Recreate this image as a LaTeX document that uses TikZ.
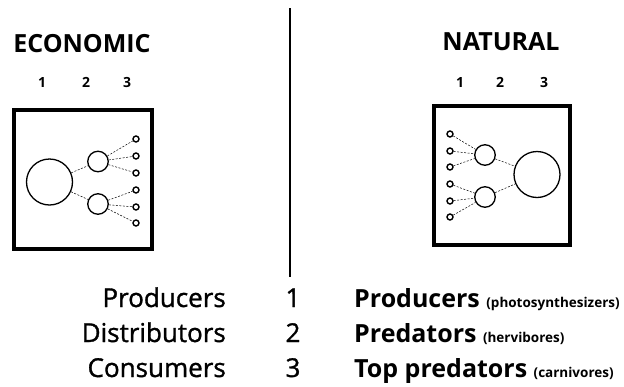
\documentclass[tikz,border=0pt]{standalone}
\usepackage{fontspec}
\setmainfont{Open Sans}
% a slightly heavier face for the legend words on the left
\newfontfamily\semiface[FakeBold=1.2]{Open Sans}
% smaller parenthetical remarks after the legend words
\newcommand{\smallnote}[1]{{\fontsize{13.5}{15}\selectfont\bfseries #1}}
\begin{document}
\begin{tikzpicture}[x=1pt,y=-1pt,
  frame/.style={draw, line width=4pt, inner sep=0pt},
  bigc/.style={circle, draw, line width=1.3pt, minimum size=46pt, inner sep=0pt},
  midc/.style={circle, draw, line width=1.3pt, minimum size=20.5pt, inner sep=0pt},
  tinyc/.style={circle, draw, line width=1.4pt, minimum size=6pt, inner sep=0pt},
  link/.style={line width=0.5pt, dash pattern=on 2pt off 1.5pt},
  divider/.style={line width=1.8pt},
  head/.style={font=\fontsize{25}{28}\selectfont\bfseries, inner sep=0pt, anchor=base},
  colnum/.style={font=\fontsize{14}{16}\selectfont\bfseries, inner sep=0pt, anchor=base},
  lefttxt/.style={font=\fontsize{26}{29}\selectfont\semiface, inner sep=0pt, anchor=base east},
  midnum/.style={font=\fontsize{26}{29}\selectfont\semiface, inner sep=0pt, anchor=base},
  righttxt/.style={font=\fontsize{25}{28}\selectfont\bfseries, inner sep=0pt, anchor=base west}
]
\useasboundingbox (0,0) rectangle (624,386);

% headings and level numbers
\node[head] (econ) at (82,52) {ECONOMIC};
\node[head] (nat) at (501,50) {NATURAL};
\node[colnum] (e1) at (42,87) {1};
\node[colnum] (e2) at (86,87) {2};
\node[colnum] (e3) at (127,87) {3};
\node[colnum] (n1) at (460,87) {1};
\node[colnum] (n2) at (500,87) {2};
\node[colnum] (n3) at (544,87) {3};

% economic system: one producer, two distributors, six consumers
\node[frame, minimum width=138pt, minimum height=139pt] (ebox) at (83,179.5) {};
\node[bigc] (ep) at (49.5,182) {};
\node[midc] (ed1) at (98,161.5) {};
\node[midc] (ed2) at (98,204) {};
\foreach \i/\y in {1/139,2/156,3/173,4/190,5/207,6/223}
  \node[tinyc] (ec\i) at (136,\y) {};
\draw[link] (ep) -- (ed1);
\draw[link] (ep) -- (ed2);
\foreach \i in {1,2,3} \draw[link] (ed1) -- (ec\i);
\foreach \i in {4,5,6} \draw[link] (ed2) -- (ec\i);

% natural system: six producers, two predators, one top predator
\node[frame, minimum width=136pt, minimum height=139pt] (nbox) at (502,175.5) {};
\foreach \i/\y in {1/134,2/151,3/167,4/184,5/201,6/217}
  \node[tinyc] (np\i) at (450,\y) {};
\node[midc] (nd1) at (485,155) {};
\node[midc] (nd2) at (485,197) {};
\node[bigc] (nt) at (537,174.5) {};
\foreach \i in {1,2,3} \draw[link] (np\i) -- (nd1);
\foreach \i in {4,5,6} \draw[link] (np\i) -- (nd2);
\draw[link] (nd1) -- (nt);
\draw[link] (nd2) -- (nt);

% dividing line
\coordinate (dtop) at (290,8);
\coordinate (dbot) at (290,277);
\draw[divider] (dtop) -- (dbot);

% legend rows
\node[lefttxt] (l1) at (226,307) {Producers};
\node[lefttxt] (l2) at (226,342) {Distributors};
\node[lefttxt] (l3) at (226,377) {Consumers};
\node[midnum] (m1) at (293,307) {1};
\node[midnum] (m2) at (293,342) {2};
\node[midnum] (m3) at (293,377) {3};
\node[righttxt] (r1) at (354,307) {Producers \smallnote{(photosynthesizers)}};
\node[righttxt] (r2) at (354,342) {Predators \smallnote{(hervibores)}};
\node[righttxt] (r3) at (354,377) {Top predators \smallnote{(carnivores)}};
\end{tikzpicture}
\end{document}
